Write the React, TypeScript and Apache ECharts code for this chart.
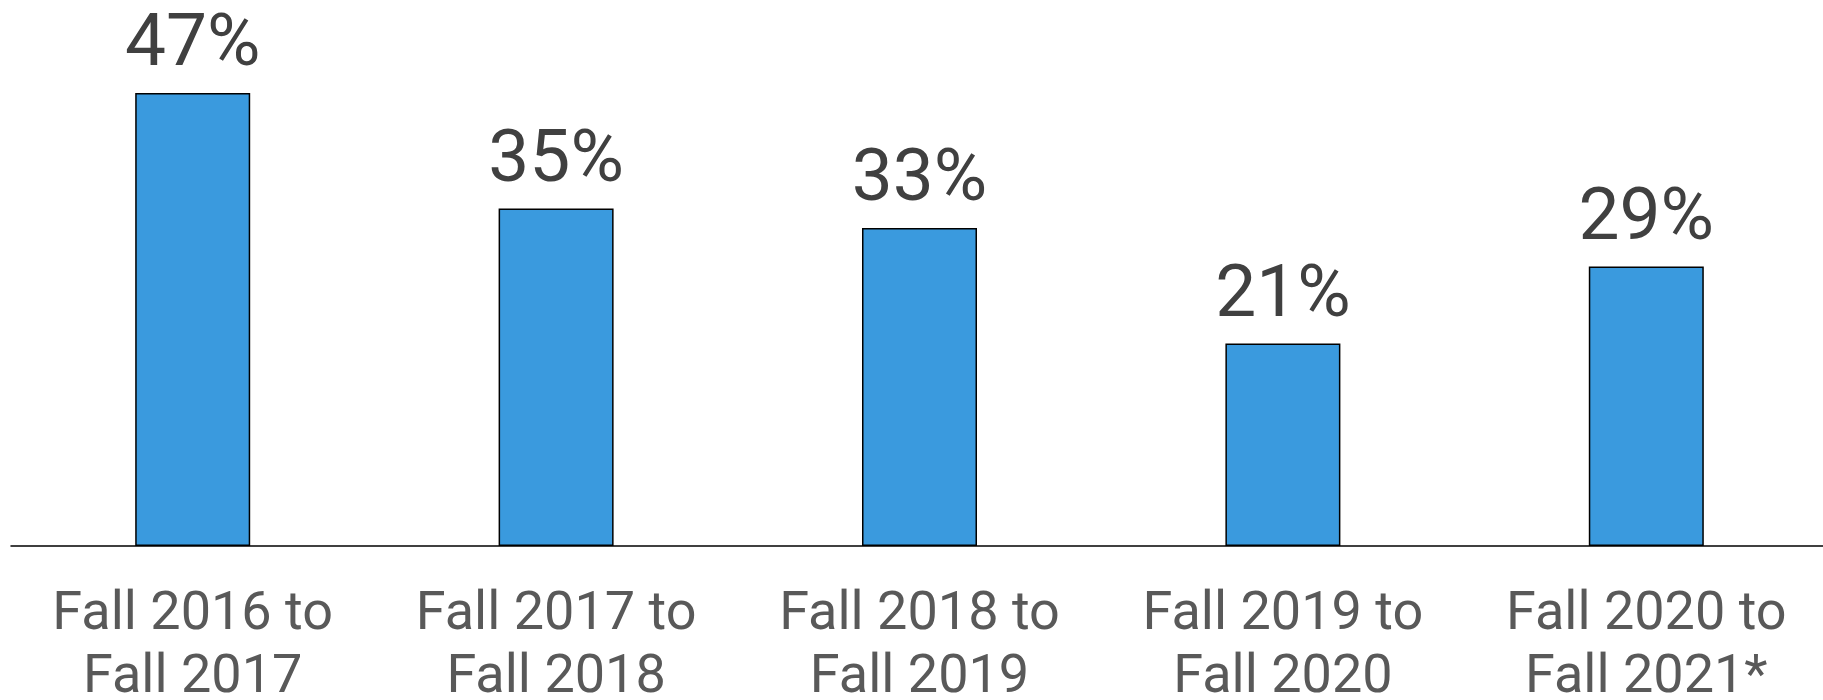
import React, { useEffect, useRef } from "react";
import * as echarts from "echarts";

const categories = [
  "Fall 2016 to\nFall 2017",
  "Fall 2017 to\nFall 2018",
  "Fall 2018 to\nFall 2019",
  "Fall 2019 to\nFall 2020",
  "Fall 2020 to\nFall 2021*",
];
const values = [47, 35, 33, 21, 29];

export default function App() {
  const ref = useRef<HTMLDivElement>(null);
  useEffect(() => {
    if (!ref.current) return;
    const chart = echarts.init(ref.current, null, { renderer: "svg" });
    chart.setOption({
      animation: false,
      grid: {
        left: 11,
        right: -5,
        top: 64,
        bottom: 154,
        containLabel: false,
        outerBoundsMode: "none",
      },
      xAxis: {
        type: "category",
        data: categories,
        axisLine: { show: true, lineStyle: { color: "#000", width: 1.5 } },
        axisTick: { show: false },
        axisLabel: {
          color: "#595959",
          fontFamily: "Roboto",
          fontSize: 54,
          lineHeight: 63,
          margin: 33,
          interval: 0,
        },
      },
      yAxis: {
        type: "value",
        min: 0,
        max: 50,
        show: false,
        splitLine: { show: false },
      },
      series: [
        {
          type: "bar",
          data: values,
          barWidth: 115,
          itemStyle: { color: "#3a9ade", borderColor: "#000", borderWidth: 1.5 },
          label: {
            show: true,
            position: "top",
            distance: 16,
            formatter: "{c}%",
            color: "#404040",
            fontFamily: "Roboto",
            fontSize: 73,
          },
        },
      ],
    });
    return () => chart.dispose();
  }, []);
  return (
    <div
      ref={ref}
      style={{ position: "fixed", left: 0, top: 0, width: 1823, height: 700, background: "#fff" }}
    />
  );
}
